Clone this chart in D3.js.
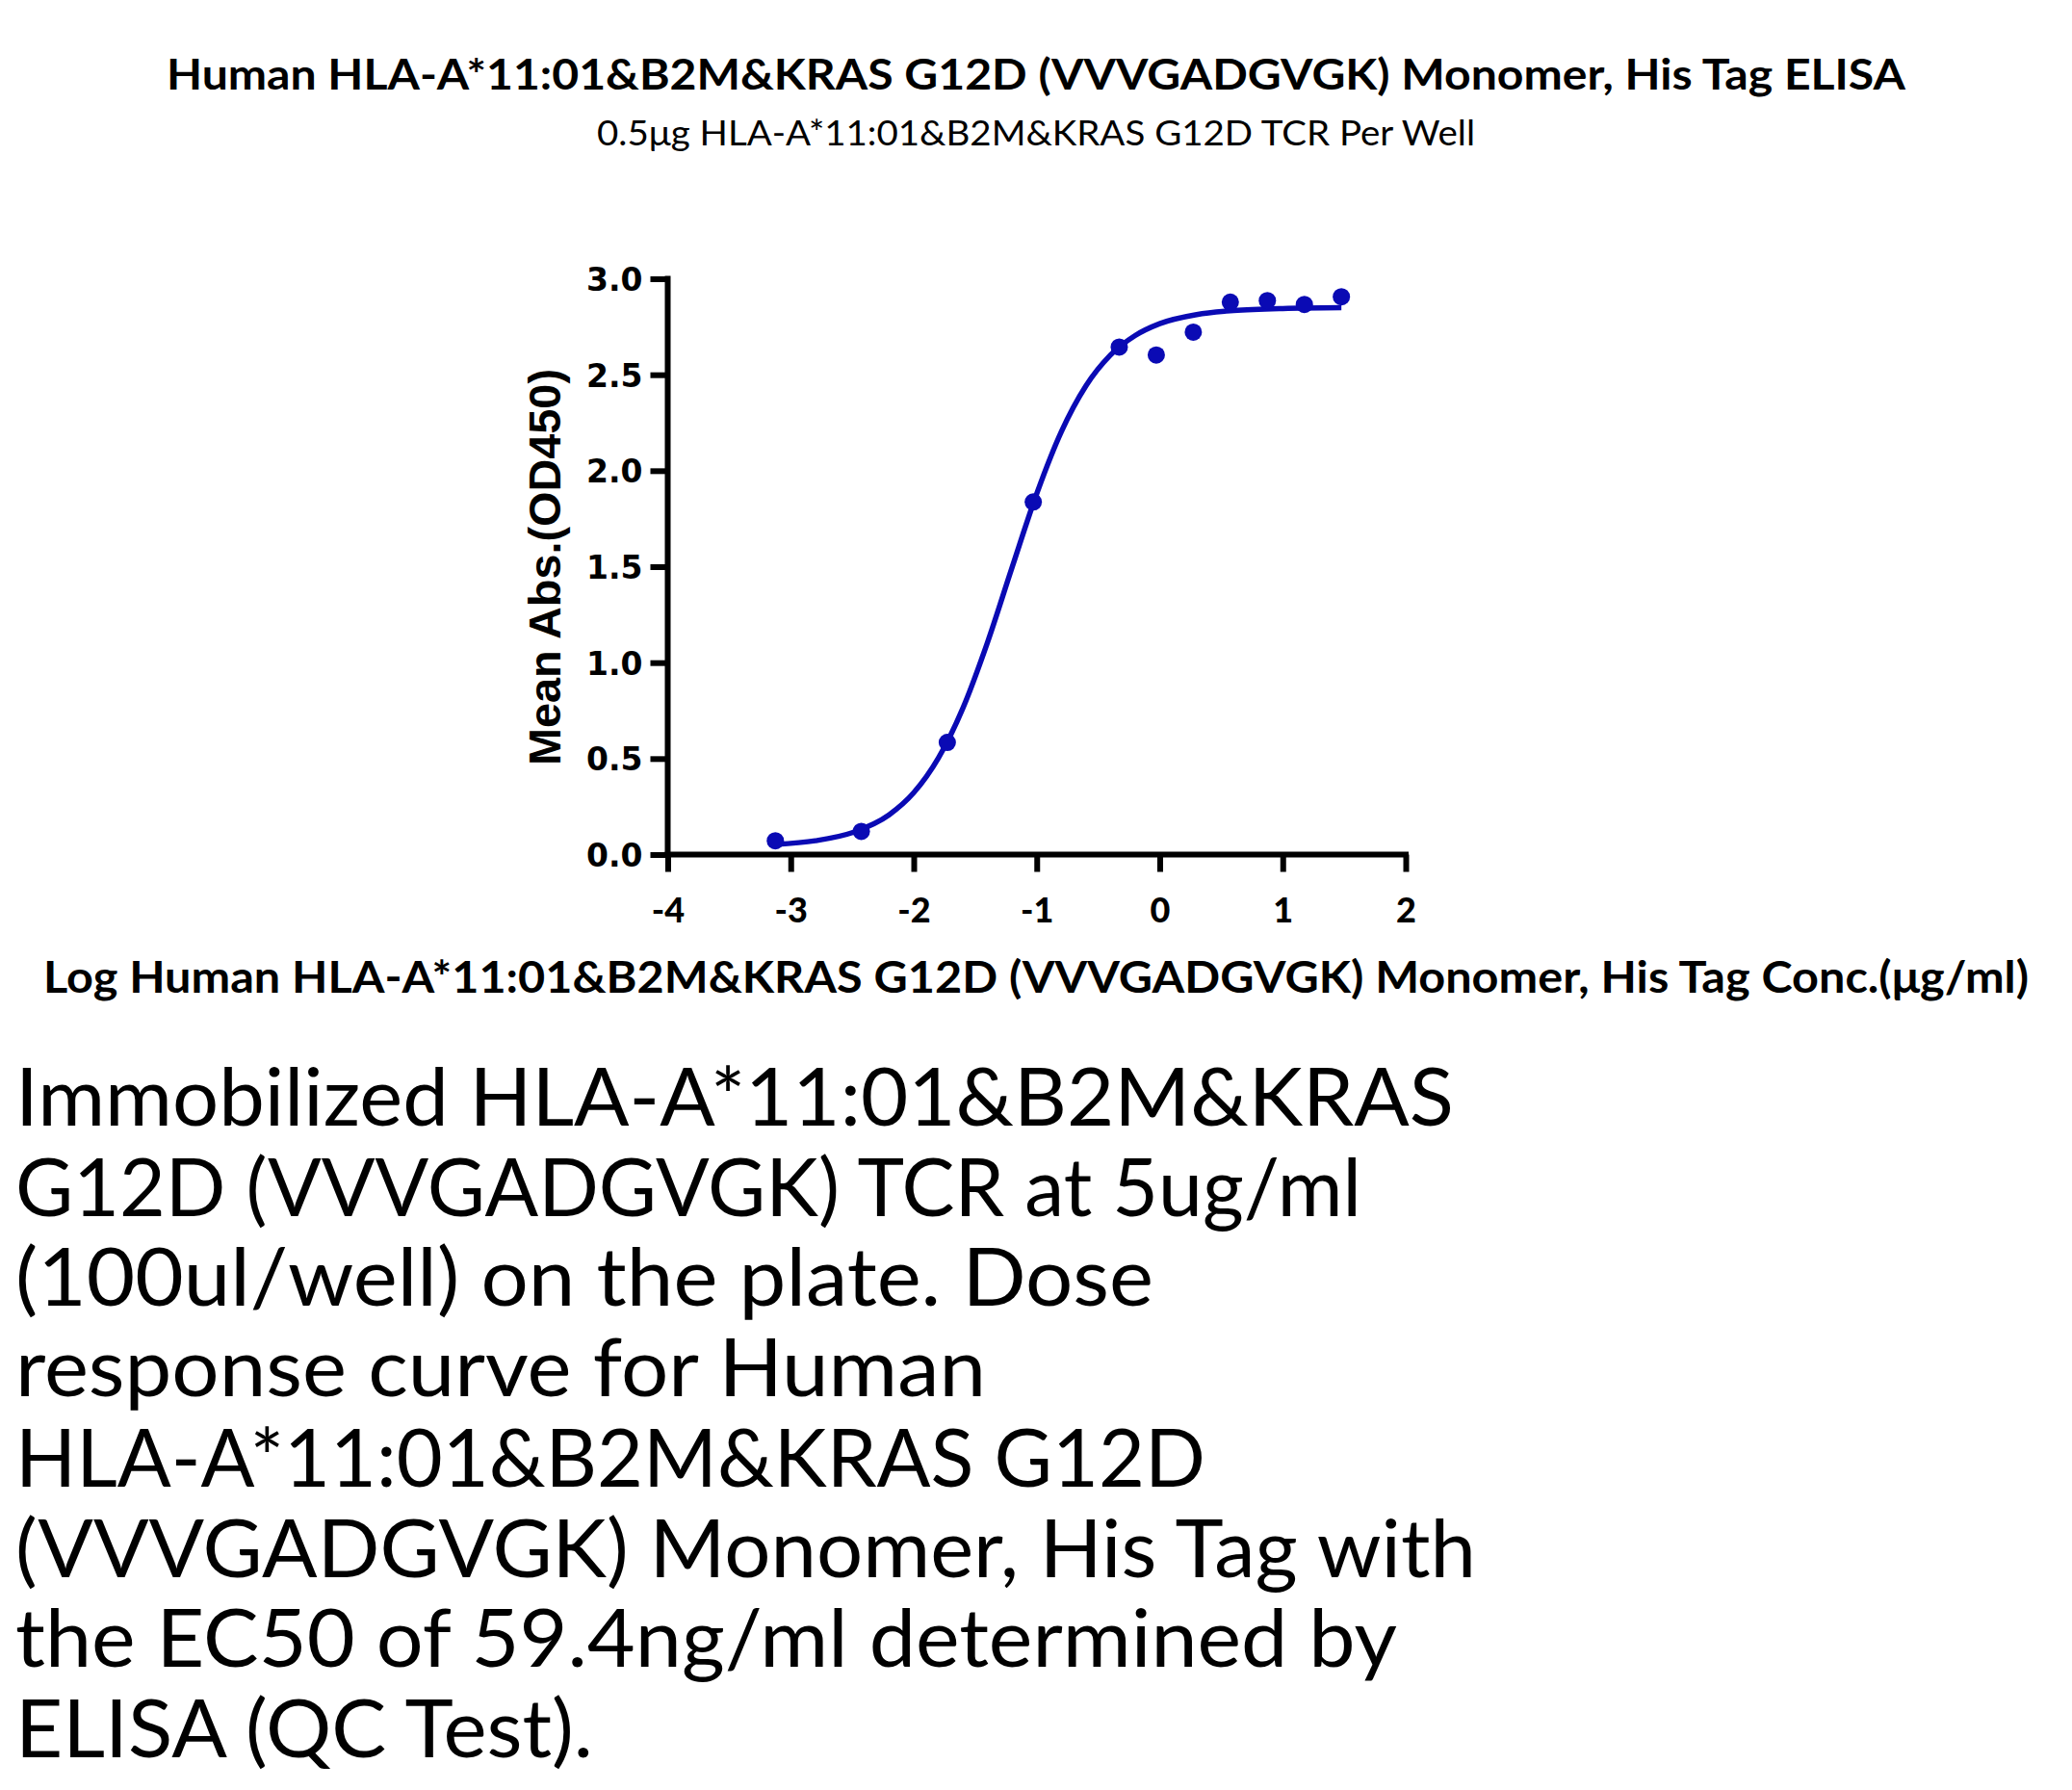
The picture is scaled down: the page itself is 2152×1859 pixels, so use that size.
<!DOCTYPE html>
<html>
<head>
<meta charset="utf-8">
<script src="https://cdn.jsdelivr.net/npm/d3@7"></script>
<style>
  html, body { margin: 0; padding: 0; background: #fff; }
  svg { display: block; }
</style>
</head>
<body>
<svg id="chart" width="2152" height="1859"></svg>
<script>
// ---------------- data ----------------
const titleText = "Human HLA-A*11:01&B2M&KRAS G12D (VVVGADGVGK) Monomer, His Tag ELISA";
const subtitleText = "0.5μg HLA-A*11:01&B2M&KRAS G12D TCR Per Well";
const xTitleText = "Log Human HLA-A*11:01&B2M&KRAS G12D (VVVGADGVGK) Monomer, His Tag Conc.(μg/ml)";
const yTitleText = "Mean Abs.(OD450)";
const bodyLines = [
  "Immobilized HLA-A*11:01&B2M&KRAS",
  "G12D (VVVGADGVGK) TCR at 5ug/ml",
  "(100ul/well) on the plate. Dose",
  "response curve for Human",
  "HLA-A*11:01&B2M&KRAS G12D",
  "(VVVGADGVGK) Monomer, His Tag with",
  "the EC50 of 59.4ng/ml determined by",
  "ELISA (QC Test)."
];
const bodyLineWidths = [1494, 1398, 1182, 1008, 1236, 1517, 1435, 600];

// measured points: log10 concentration (μg/ml) and mean OD450
const logConc = [-3.125, -2.426, -1.727, -1.028, -0.329, -0.028, 0.273, 0.574, 0.875, 1.176, 1.477];
const meanAbs = [0.072, 0.121, 0.584, 1.837, 2.644, 2.603, 2.722, 2.878, 2.886, 2.866, 2.906];

// fitted curve
const curveX = [-3.125, -2.8, -2.5, -2.2, -2.0, -1.8, -1.6, -1.4, -1.2, -1.0, -0.8, -0.6, -0.4, -0.2, 0.0, 0.3, 0.6, 1.0, 1.477];
const curveY = [0.053, 0.072, 0.114, 0.207, 0.322, 0.502, 0.763, 1.106, 1.497, 1.880, 2.203, 2.442, 2.603, 2.704, 2.766, 2.813, 2.834, 2.845, 2.849];

const xTicks = [-4, -3, -2, -1, 0, 1, 2];
const xTickLabels = ["-4", "-3", "-2", "-1", "0", "1", "2"];
const yTicks = [0.0, 0.5, 1.0, 1.5, 2.0, 2.5, 3.0];
const yTickLabels = ["0.0", "0.5", "1.0", "1.5", "2.0", "2.5", "3.0"];

// ---------------- drawing ----------------
const svg = d3.select("#chart");
const blue = "#0a0ab4";

const x = d3.scaleLinear().domain([-4, 2]).range([693.5, 1460]);
const y = d3.scaleLinear().domain([0, 3]).range([887.5, 289.5]);

// titles
svg.append("text")
  .attr("x", 1076).attr("y", 93)
  .attr("text-anchor", "middle")
  .attr("font-family", "Lato").attr("font-weight", 700).attr("font-size", 44)
  .attr("textLength", 1806).attr("lengthAdjust", "spacingAndGlyphs")
  .text(titleText);

svg.append("text")
  .attr("x", 1076).attr("y", 151)
  .attr("text-anchor", "middle")
  .attr("font-family", "Lato").attr("font-weight", 400).attr("font-size", 37)
  .attr("textLength", 912).attr("lengthAdjust", "spacingAndGlyphs")
  .text(subtitleText);

// axes
const axisG = svg.append("g");
const xAxis = d3.axisBottom(x).tickValues(xTicks).tickSize(18).tickPadding(0)
  .tickFormat((d, i) => xTickLabels[i]);
const gx = axisG.append("g").attr("transform", `translate(0,${y(0)})`).call(xAxis);
gx.select(".domain").attr("stroke", "#000").attr("stroke-width", 6)
  .attr("d", `M${x(-4) - 3},0H${x(2) + 3}`);
gx.selectAll(".tick line").attr("stroke", "#000").attr("stroke-width", 6);
gx.selectAll(".tick text")
  .attr("font-family", "Lato").attr("font-weight", 900).attr("font-size", 36)
  .attr("fill", "#000").attr("dy", null).attr("y", 70);

const yAxis = d3.axisLeft(y).tickValues(yTicks).tickSize(18).tickPadding(8)
  .tickFormat((d, i) => yTickLabels[i]);
const gy = axisG.append("g").attr("transform", `translate(${x(-4)},0)`).call(yAxis);
gy.select(".domain").attr("stroke", "#000").attr("stroke-width", 6)
  .attr("d", `M0,${y(3) - 3}V${y(0) + 3}`);
gy.selectAll(".tick line").attr("stroke", "#000").attr("stroke-width", 6);
gy.selectAll(".tick text")
  .attr("font-family", "DejaVu Sans").attr("font-weight", 700).attr("font-size", 33)
  .attr("fill", "#000").attr("dy", "0.36em");

// axis titles
svg.append("text")
  .attr("transform", `translate(582,${589}) rotate(-90)`)
  .attr("text-anchor", "middle")
  .attr("font-family", "Liberation Sans").attr("font-weight", 700).attr("font-size", 46)
  .attr("textLength", 412).attr("lengthAdjust", "spacingAndGlyphs")
  .text(yTitleText);

svg.append("text")
  .attr("x", 1076).attr("y", 1031)
  .attr("text-anchor", "middle")
  .attr("font-family", "Lato").attr("font-weight", 700).attr("font-size", 45)
  .attr("textLength", 2062).attr("lengthAdjust", "spacingAndGlyphs")
  .text(xTitleText);

// fitted curve
const line = d3.line()
  .x(d => x(d[0])).y(d => y(d[1]))
  .curve(d3.curveMonotoneX);
svg.append("path")
  .datum(curveX.map((v, i) => [v, curveY[i]]))
  .attr("d", line)
  .attr("fill", "none").attr("stroke", blue).attr("stroke-width", 5.5)
  .attr("stroke-linejoin", "round");

// points
svg.append("g").selectAll("circle")
  .data(logConc.map((v, i) => [v, meanAbs[i]]))
  .join("circle")
  .attr("cx", d => x(d[0])).attr("cy", d => y(d[1]))
  .attr("r", 9).attr("fill", blue);

// body text
const body = svg.append("g");
bodyLines.forEach((t, i) => {
  body.append("text")
    .attr("x", 16).attr("y", 1169 + i * 93.7)
    .attr("font-family", "Lato").attr("font-weight", 400).attr("font-size", 84)
    .attr("textLength", bodyLineWidths[i]).attr("lengthAdjust", "spacingAndGlyphs")
    .attr("fill", "#000")
    .text(t);
});
</script>
</body>
</html>
